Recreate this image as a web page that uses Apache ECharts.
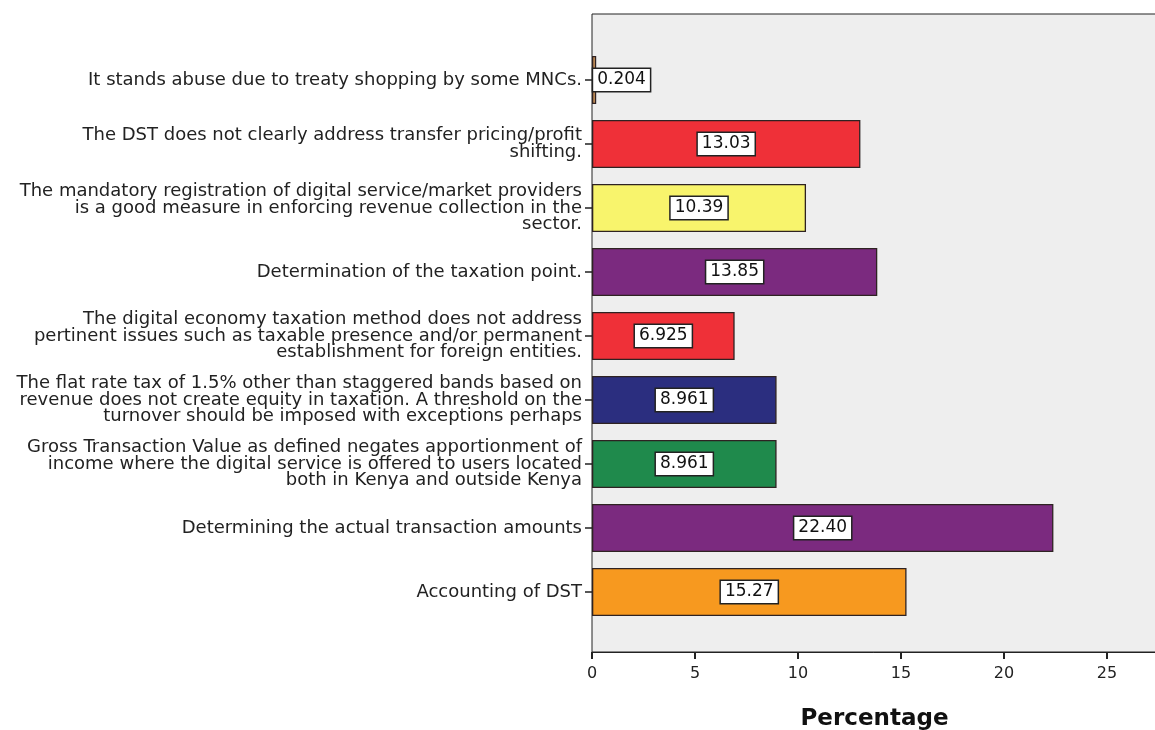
<!DOCTYPE html>
<html>
<head>
<meta charset="utf-8">
<script src="https://cdn.jsdelivr.net/npm/echarts@6/dist/echarts.min.js"></script>
<style>
  html, body { margin: 0; padding: 0; background: #ffffff; }
  #chart { width: 1155px; height: 730px; }
</style>
</head>
<body>
<div id="chart"></div>
<script>
// Responses, listed top to bottom
const categories = [
  "It stands abuse due to treaty shopping by some MNCs.",
  "The DST does not clearly address transfer pricing/profit\nshifting.",
  "The mandatory registration of digital service/market providers\nis a good measure in enforcing revenue collection in the\nsector.",
  "Determination of the taxation point.",
  "The digital economy taxation method does not address\npertinent issues such as taxable presence and/or permanent\nestablishment for foreign entities.",
  "The flat rate tax of 1.5% other than staggered bands based on\nrevenue does not create equity in taxation. A threshold on the\nturnover should be imposed with exceptions perhaps",
  "Gross Transaction Value as defined negates apportionment of\nincome where the digital service is offered to users located\nboth in Kenya and outside Kenya",
  "Determining the actual transaction amounts",
  "Accounting of DST"
];
const percentages = [0.204, 13.03, 10.39, 13.85, 6.925, 8.961, 8.961, 22.40, 15.27];
const valueLabels = ["0.204", "13.03", "10.39", "13.85", "6.925", "8.961", "8.961", "22.40", "15.27"];
const barColors = ["#c8925a", "#ef3038", "#f8f46c", "#7b2a7f", "#ef3038", "#2b2e7f", "#1f8a4c", "#7b2a7f", "#f7991f"];
const xTicks = [0, 5, 10, 15, 20, 25];

const chart = echarts.init(document.getElementById('chart'), null, { renderer: 'canvas' });

const AXIS_MAX = 27.43;
const FONT = 'DejaVu Sans';

const barData = percentages.map((v, i) => {
  const item = {
    value: v,
    itemStyle: { color: barColors[i] },
    label: { formatter: valueLabels[i] }
  };
  if (v < 1) {
    item.label.position = 'right';
    item.label.distance = -3;
  }
  return item;
});

const option = {
  animation: false,
  backgroundColor: '#ffffff',
  grid: [
    // plot frame and shaded background
    {
      left: 592, right: -2, top: 14, bottom: 78,
      show: true, backgroundColor: '#eeeeee',
      borderColor: '#222222', borderWidth: 1,
      outerBoundsMode: 'none'
    },
    // bars
    {
      left: 592, right: -2, top: 48, bottom: 106,
      outerBoundsMode: 'none'
    }
  ],
  xAxis: [
    {
      gridIndex: 0, type: 'value', min: 0, max: AXIS_MAX, show: false
    },
    {
      gridIndex: 1, type: 'value', min: 0, max: AXIS_MAX, interval: 5,
      offset: 28,
      name: 'Percentage', nameLocation: 'middle', nameGap: 56,
      nameTextStyle: { fontFamily: FONT, fontWeight: 'bold', fontSize: 23, color: '#111111' },
      axisLine: { show: true, lineStyle: { color: '#222222', width: 1 } },
      axisTick: { show: true, length: 7, lineStyle: { color: '#222222', width: 2 } },
      axisLabel: {
        margin: 14, fontFamily: FONT, fontSize: 16, color: '#222222',
        showMaxLabel: false,
        formatter: v => (xTicks.indexOf(v) >= 0 ? String(v) : '')
      },
      splitLine: { show: false }
    }
  ],
  yAxis: [
    {
      gridIndex: 0, type: 'value', show: false
    },
    {
      gridIndex: 1, type: 'category', data: categories, inverse: true,
      axisLine: { show: false },
      axisTick: { show: true, alignWithLabel: true, length: 7, lineStyle: { color: '#222222', width: 1.5 } },
      axisLabel: {
        margin: 10, fontFamily: FONT, fontSize: 18, lineHeight: 16.5,
        color: '#222222', align: 'right', interval: 0
      }
    }
  ],
  series: [
    {
      type: 'bar',
      xAxisIndex: 1, yAxisIndex: 1,
      data: barData,
      barWidth: 48,
      itemStyle: { borderColor: '#2e2222', borderWidth: 1.3 },
      label: {
        show: true, position: 'inside',
        fontFamily: FONT, fontSize: 17, color: '#111111',
        backgroundColor: '#ffffff', borderColor: '#222222', borderWidth: 1.5,
        padding: [3, 4, 2, 4]
      }
    }
  ]
};

chart.setOption(option);
</script>
</body>
</html>
